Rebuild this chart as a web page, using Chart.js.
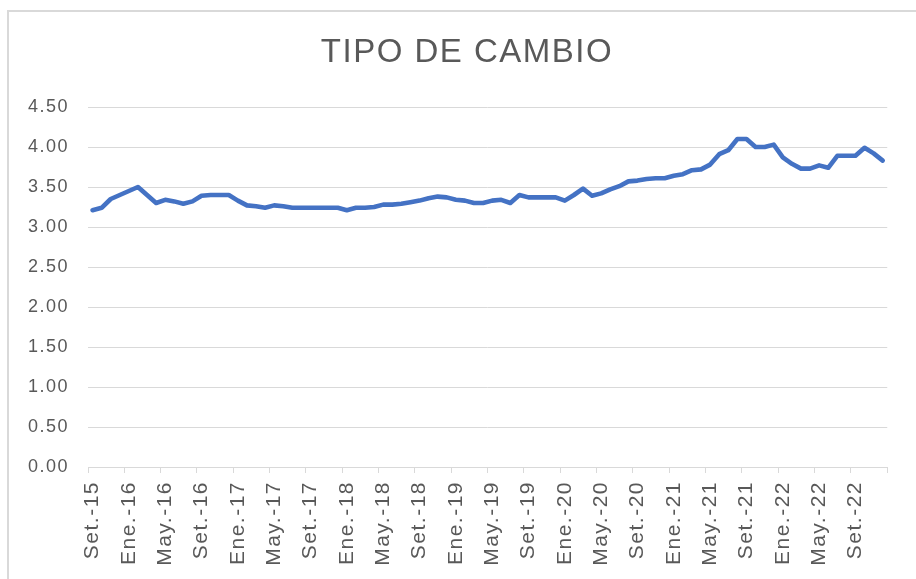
<!DOCTYPE html>
<html lang="es">
<head>
    <meta charset="UTF-8">
    <title>Tipo de cambio</title>
    <style>
        body {
            margin: 0;
            padding: 0;
            background: #fff;
            overflow: hidden;
        }

        #frame {
            position: absolute;
            left: 7px;
            top: 10px;
            width: 1000px;
            height: 1000px;
            border-left: 2px solid #d9d9d9;
            border-top: 2px solid #d9d9d9;
        }

        #chart {
            position: absolute;
            left: 0;
            top: 0;
        }
    </style>
    <script src="https://cdn.jsdelivr.net/npm/chart.js"></script>
</head>
<body>
    <div id="frame"></div>
    <canvas id="chart" width="916" height="579"></canvas>
    <script>
        // meses set-15 .. dic-22
        var monthNames = ['Ene.', 'Feb.', 'Mar.', 'Abr.', 'May.', 'Jun.', 'Jul.', 'Ago.', 'Set.', 'Oct.', 'Nov.', 'Dic.'];
        var startYear = 15, startMonth = 8;

        var tipoCambio = [
            3.21, 3.24, 3.35, 3.40, 3.45, 3.50, 3.40, 3.30, 3.34, 3.32, 3.29, 3.32,
            3.39, 3.40, 3.40, 3.40, 3.33, 3.27, 3.26, 3.24, 3.27, 3.26, 3.24, 3.24,
            3.24, 3.24, 3.24, 3.24, 3.21, 3.24, 3.24, 3.25, 3.28, 3.28, 3.29, 3.31,
            3.33, 3.36, 3.38, 3.37, 3.34, 3.33, 3.30, 3.30, 3.33, 3.34, 3.30, 3.40,
            3.37, 3.37, 3.37, 3.37, 3.33, 3.40, 3.48, 3.39, 3.42, 3.47, 3.51, 3.57,
            3.58, 3.60, 3.61, 3.61, 3.64, 3.66, 3.71, 3.72, 3.78, 3.91, 3.96, 4.10,
            4.10, 4.00, 4.00, 4.03, 3.87, 3.79, 3.73, 3.73, 3.77, 3.74, 3.89, 3.89,
            3.89, 3.99, 3.92, 3.83
        ];

        var yTicks = [0, 0.5, 1, 1.5, 2, 2.5, 3, 3.5, 4, 4.5];

        var labels = [];
        for (var i = 0; i < tipoCambio.length; i++) {
            var m = (startMonth + i) % 12;
            var y = startYear + Math.floor((startMonth + i) / 12);
            labels.push(monthNames[m] + '-' + y);
        }

        var gray = '#d9d9d9';
        var textGray = '#595959';

        // texto un poco espaciado, como en el original
        var spacing = {
            id: 'spacing',
            beforeLayout: function (chart) { chart.ctx.letterSpacing = '1.5px'; },
            beforeDraw: function (chart) { chart.ctx.letterSpacing = '1.5px'; }
        };

        // el titulo va algo a la derecha del centro
        var titleShift = {
            id: 'titleShift',
            afterLayout: function (chart) {
                if (chart.titleBlock) chart.titleBlock.left += 34;
            }
        };

        Chart.defaults.font.family = "'Liberation Sans', Arial, sans-serif";

        new Chart(document.getElementById('chart'), {
            type: 'line',
            data: {
                labels: labels,
                datasets: [{
                    label: 'Tipo de cambio',
                    data: tipoCambio,
                    borderColor: '#4472c4',
                    backgroundColor: '#4472c4',
                    borderWidth: 4.6,
                    pointRadius: 0,
                    tension: 0,
                    borderCapStyle: 'round',
                    borderJoinStyle: 'round'
                }]
            },
            options: {
                responsive: false,
                devicePixelRatio: 1,
                animation: false,
                layout: {
                    padding: { left: 0, right: 16, top: 0, bottom: 0 }
                },
                plugins: {
                    legend: { display: false },
                    tooltip: { enabled: false },
                    title: {
                        display: true,
                        text: 'TIPO DE CAMBIO',
                        color: textGray,
                        font: { size: 33, weight: 'normal' },
                        padding: { top: 33, bottom: 34.4 }
                    }
                },
                scales: {
                    x: {
                        offset: true,
                        afterFit: function (scale) { scale.height = 112; },
                        border: { display: true, color: gray, width: 1 },
                        grid: {
                            offset: true,
                            drawOnChartArea: false,
                            drawTicks: true,
                            tickLength: 6,
                            tickWidth: 1,
                            tickColor: function (c) {
                                return (c.index === undefined || c.index % 4 === 0) ? gray : 'rgba(0,0,0,0)';
                            }
                        },
                        ticks: {
                            autoSkip: false,
                            minRotation: 90,
                            maxRotation: 90,
                            padding: 8,
                            color: textGray,
                            font: { size: 21 },
                            callback: function (value, index) {
                                return index % 4 === 0 ? labels[index] : '';
                            }
                        }
                    },
                    y: {
                        min: 0,
                        max: 4.5,
                        afterFit: function (scale) { scale.width = 88; },
                        afterBuildTicks: function (scale) {
                            scale.ticks = yTicks.map(function (v) { return { value: v }; });
                        },
                        border: { display: false },
                        grid: {
                            color: gray,
                            lineWidth: 1,
                            drawTicks: false
                        },
                        ticks: {
                            padding: 19,
                            color: textGray,
                            font: { size: 18 },
                            callback: function (value) { return value.toFixed(2); }
                        }
                    }
                }
            },
            plugins: [spacing, titleShift]
        });
    </script>
</body>
</html>
